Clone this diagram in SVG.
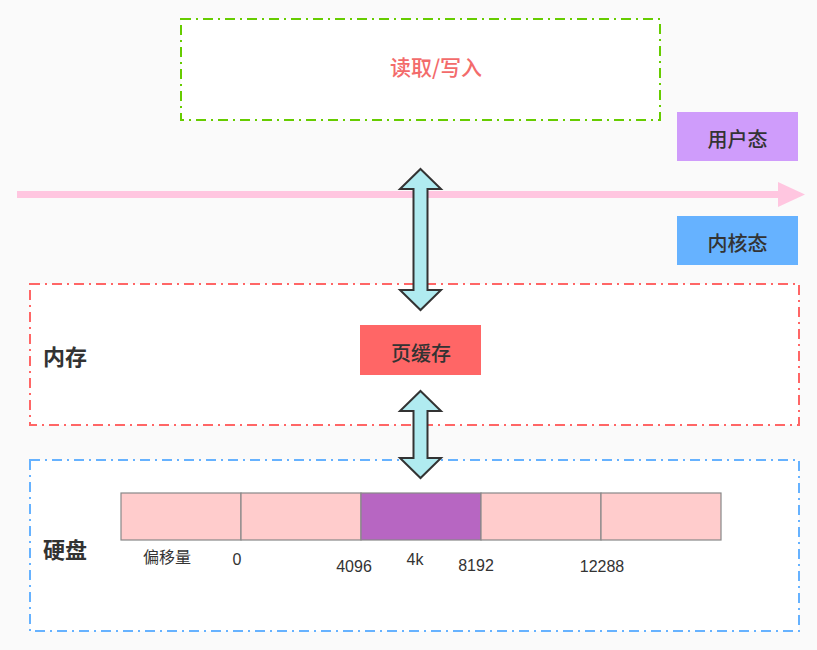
<svg xmlns="http://www.w3.org/2000/svg" width="817" height="650" viewBox="0 0 817 650">
<style>
  .zone { fill: #ffffff; stroke-width: 2; stroke-dasharray: 10 5 2 5; }
  .t { font-family: "Noto Sans CJK SC", "Noto Sans", sans-serif; fill: #333333; font-weight: 500; }
  .big { font-size: 22px; font-weight: bold; }
  .mid { font-size: 20px; }
  .num { font-family: "Liberation Sans", "Noto Sans CJK SC", sans-serif; font-size: 16px; fill: #333333; }
  .cell { fill: #ffcccc; stroke: #888888; stroke-width: 1.2; }
  .dbl { fill: #b0ebf0; stroke: #333333; stroke-width: 2; stroke-linejoin: miter; }
</style>
<rect x="0" y="0" width="817" height="650" fill="#fafafa"/>

<g id="rw-zone">
  <rect class="zone" x="181" y="19" width="479" height="101" stroke="#66cc00"/>
  <text class="t" x="436" y="75" text-anchor="middle" font-size="21" style="fill:#f36b6b">读取/写入</text>
</g>

<g id="memory-zone">
  <rect class="zone" x="30" y="284" width="769" height="141" stroke="#ff6666"/>
  <text class="t big" x="43" y="365">内存</text>
</g>

<g id="disk-zone">
  <rect class="zone" x="30" y="460" width="769" height="171" stroke="#66b2ff"/>
  <text class="t big" x="43" y="558">硬盘</text>
</g>

<g id="boundary">
  <rect x="17" y="191" width="765" height="7" fill="#ffc6e0"/>
  <polygon points="778,182 805,194.5 778,207" fill="#ffc6e0"/>
</g>

<g id="user-mode">
  <rect x="677" y="112" width="121" height="49" fill="#cf9cfb"/>
  <text class="t mid" x="737.5" y="146.5" text-anchor="middle">用户态</text>
</g>

<g id="kernel-mode">
  <rect x="677" y="216" width="121" height="49" fill="#66b2ff"/>
  <text class="t mid" x="737.5" y="250.5" text-anchor="middle">内核态</text>
</g>

<g id="page-cache">
  <rect x="360" y="325" width="121" height="50" fill="#ff6666"/>
  <text class="t mid" x="421" y="360.5" text-anchor="middle">页缓存</text>
</g>

<g id="disk-blocks">
  <rect class="cell" x="121" y="493" width="120" height="47"/>
  <rect class="cell" x="241" y="493" width="120" height="47"/>
  <rect class="cell" x="361" y="493" width="120" height="47" style="fill:#b766c2"/>
  <rect class="cell" x="481" y="493" width="120" height="47"/>
  <rect class="cell" x="601" y="493" width="120" height="47"/>
  <text class="t" x="167" y="563" text-anchor="middle" font-size="16" style="font-weight:normal">偏移量</text>
  <text class="num" x="237" y="565" text-anchor="middle">0</text>
  <text class="num" x="354" y="572" text-anchor="middle">4096</text>
  <text class="num" x="415" y="565" text-anchor="middle">4k</text>
  <text class="num" x="476" y="571" text-anchor="middle">8192</text>
  <text class="num" x="602" y="572" text-anchor="middle">12288</text>
</g>

<g id="connectors">
  <polygon class="dbl" points="420.5,169 441,189 427.5,189 427.5,290 441,290 420.5,310 400,290 413.5,290 413.5,189 400,189"/>
  <polygon class="dbl" points="420.5,391 441,411 427.5,411 427.5,458 441,458 420.5,478 400,458 413.5,458 413.5,411 400,411"/>
</g>
</svg>
